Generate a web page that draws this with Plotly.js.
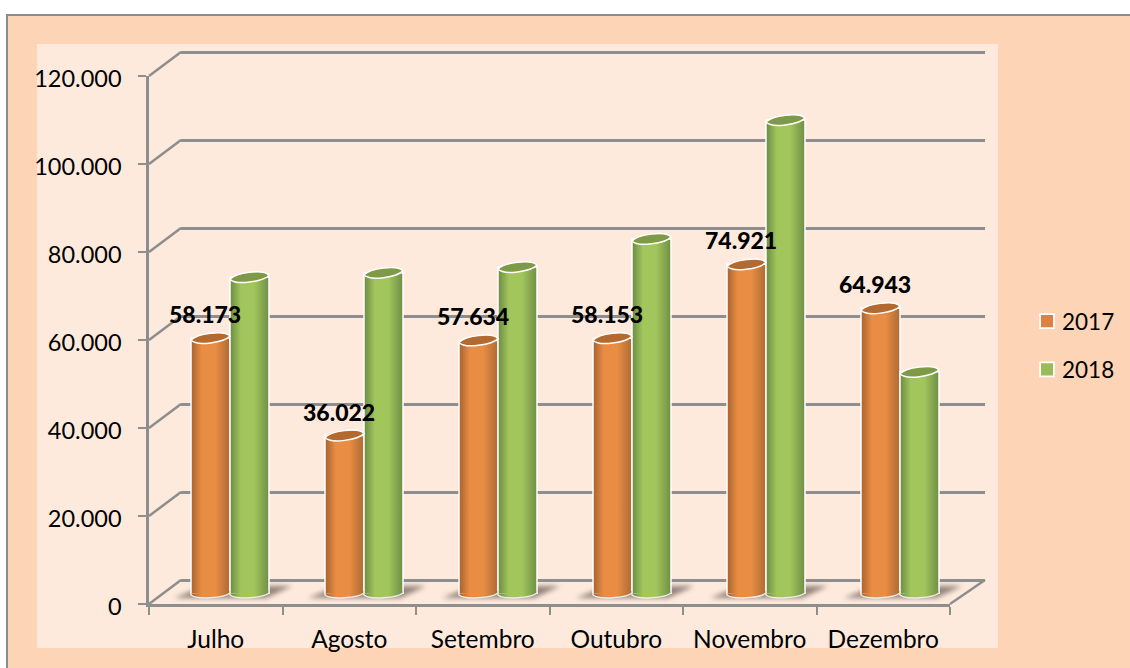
<!DOCTYPE html>
<html>
<head>
<meta charset="utf-8">
<script src="https://cdn.plot.ly/plotly-3.0.1.min.js"></script>
<style>html,body{margin:0;padding:0;background:#fff}#chart{width:1130px;height:668px}</style>
</head>
<body>
<div id="chart"></div>
<script>
const categories = ['Julho','Agosto','Setembro','Outubro','Novembro','Dezembro'];
const values2017 = [58.173,36.022,57.634,58.153,74.921,64.943];
const values2018 = [72.0,73.0,74.3,80.7,107.7,50.5];
const seriesNames = ['2017','2018'];
const tickValues = [0,20,40,60,80,100,120];
const tickLabels = ['0','20.000','40.000','60.000','80.000','100.000','120.000'];
const dataLabels = ['58.173','36.022','57.634','58.153','74.921','64.943'];

const W = 1130, H = 668;
const FONT = 'Lato, "Open Sans", sans-serif';
const GRID = '#8E8E8E';
const px = x => x / W;
const py = y => 1 - y / H;
const dom = (a, b) => [a / W, b / W];
const domY = (bottom, top) => [1 - bottom / H, 1 - top / H];

// Pixel boxes of the three stacked coordinate systems
const BACK = {l:181, r:985, b:580, t:52};
const FRONT = {l:149, r:950, b:604, t:76};
const BARS = {l:163, r:967, b:594, t:66};
const scaleY = (box, v) => box.b - (box.b - box.t) * v / 120;
const catW = (BARS.r - BARS.l) / categories.length;
const catC = i => BARS.l + catW * (i + 0.5);
const GROUP = 78;
const PAD = 2; // back-wall axis overshoot, so the 0 and 120 gridlines are kept
const padPx = (BACK.b - BACK.t) * PAD / 120;

function capPath(xl, xr, yc, tilt, bulge) {
  const w = xr - xl;
  const a = yc + tilt, b = yc - tilt;
  return `M${px(xl)},${py(a)} C${px(xl + w*0.15)},${py(a - bulge)} ${px(xr - w*0.15)},${py(b - bulge)} ${px(xr)},${py(b)} ` +
         `C${px(xr - w*0.15)},${py(b + bulge)} ${px(xl + w*0.15)},${py(a + bulge)} ${px(xl)},${py(a)} Z`;
}
function basePath(xl, xr, yc, tilt, bulge) {
  const w = xr - xl;
  const a = yc + tilt, b = yc - tilt;
  return `M${px(xr)},${py(b - 1.5)} L${px(xr)},${py(b)} C${px(xr - w*0.15)},${py(b + bulge)} ${px(xl + w*0.15)},${py(a + bulge)} ${px(xl)},${py(a)} L${px(xl)},${py(a - 1.5)}`;
}

const shapes = [];
// Outer frame and inner panel
shapes.push({type:'rect',xref:'paper',yref:'paper',x0:px(7),x1:px(1140),y0:py(15),y1:py(680),
  fillcolor:'#FDD4B5',line:{color:'#8C8C8C',width:2},layer:'below'});
shapes.push({type:'rect',xref:'paper',yref:'paper',x0:px(37),x1:px(998),y0:py(44),y1:py(648),
  fillcolor:'#FDEADC',line:{width:0},layer:'below'});
// Oblique side-wall segments joining front ticks to back gridlines
tickValues.forEach(v => shapes.push({type:'line',xref:'paper',yref:'paper',
  x0:px(FRONT.l),y0:py(scaleY(FRONT,v)),x1:px(BACK.l),y1:py(scaleY(BACK,v)),
  line:{color:GRID,width:2.5},layer:'below'}));
// Right edge of the floor
shapes.push({type:'line',xref:'paper',yref:'paper',x0:px(FRONT.r),y0:py(FRONT.b),x1:px(BACK.r),y1:py(BACK.b),
  line:{color:GRID,width:2.5},layer:'below'});

// Floor shadows
const shadowIdx = [];
categories.forEach((c,i) => {
  const cx = catC(i);
  shadowIdx.push(shapes.length);
  shapes.push({type:'path',xref:'paper',yref:'paper',layer:'below',
    path:`M${px(cx-56)},${py(598)} L${px(cx-25)},${py(586)} L${px(cx+62)},${py(586)} L${px(cx+36)},${py(598)} Z`,
    fillcolor:'#80706A',opacity:0.85,line:{width:0}});
});
// Bottom curves of the cylinders
const baseIdx = [[],[]];
categories.forEach((c,i) => {
  const cx = catC(i);
  [[cx-GROUP/2,cx],[cx,cx+GROUP/2]].forEach((e,s) => {
    baseIdx[s].push(shapes.length);
    shapes.push({type:'path',xref:'paper',yref:'paper',layer:'above',
      path:basePath(e[0],e[1],scaleY(BARS,0),1,5),
      fillcolor:s?'#A2C65C':'#E98D44',line:{color:'#EDEDE6',width:1.5}});
  });
});
// Top ellipses of the cylinders
[values2017,values2018].forEach((vals,s) => {
  vals.forEach((v,i) => {
    const cx = catC(i);
    const xl = s ? cx : cx-GROUP/2, xr = s ? cx+GROUP/2 : cx;
    shapes.push({type:'path',xref:'paper',yref:'paper',layer:'above',
      path:capPath(xl,xr,scaleY(BARS,v),2,6.5),
      fillcolor:s?'#7F9A47':'#B26A30',line:{color:'#FFFFFF',width:1.5}});
  });
});

const annotations = values2017.map((v,i) => ({
  xref:'x3',yref:'y3',x:categories[i],y:v,text:dataLabels[i],showarrow:false,
  xshift:-25,yshift:24,font:{family:FONT,size:23,color:'#000',weight:900}
}));

const baseTrace = (name,vals,color,group) => ({
  type:'bar',name,x:categories,y:vals,xaxis:'x3',yaxis:'y3',legendgroup:group,
  marker:{color,line:{color:'#FFFFFF',width:1.5}},hoverinfo:'skip'
});

const traces = [
  {type:'scatter',mode:'none',x:categories,y:values2017,xaxis:'x',yaxis:'y',showlegend:false,hoverinfo:'skip'},
  {type:'scatter',mode:'none',x:categories,y:values2017,xaxis:'x2',yaxis:'y2',showlegend:false,hoverinfo:'skip'},
  baseTrace(seriesNames[0],values2017,'#DD8040','a'),
  baseTrace(seriesNames[1],values2018,'#9BBB59','b')
];

const layout = {
  width:W,height:H,margin:{l:0,r:0,t:0,b:0,pad:0},
  paper_bgcolor:'#FFFFFF',plot_bgcolor:'rgba(0,0,0,0)',
  font:{family:FONT,color:'#000'},
  barmode:'group',bargap:1-GROUP/catW,bargroupgap:0,
  shapes,annotations,
  showlegend:true,
  legend:{x:px(1022),xanchor:'left',y:py(300),yanchor:'top',bgcolor:'rgba(0,0,0,0)',
    font:{family:FONT,size:22.5,color:'#000'},traceorder:'grouped',tracegroupgap:16,itemwidth:30},
  // back wall
  xaxis:{domain:dom(BACK.l,BACK.r),range:[-0.5,5.5],type:'category',categoryarray:categories,
    anchor:'y',showgrid:false,showline:false,zeroline:false,showticklabels:false,ticks:''},
  yaxis:{domain:domY(BACK.b+padPx,BACK.t-padPx),range:[-PAD,120+PAD],anchor:'x',tickvals:tickValues,
    showticklabels:false,ticks:'',showline:false,showgrid:true,gridcolor:GRID,gridwidth:3,zeroline:false},
  // front axes
  xaxis2:{domain:dom(FRONT.l,FRONT.r),range:[-0.5,5.5],type:'category',categoryarray:categories,
    anchor:'y2',showgrid:false,showline:true,linecolor:GRID,linewidth:3,zeroline:false,
    ticks:'outside',tickson:'boundaries',ticklen:8,tickwidth:2,tickcolor:GRID,
    tickfont:{family:FONT,size:24.5,color:'#000'},ticklabelstandoff:12},
  yaxis2:{domain:domY(FRONT.b,FRONT.t),range:[0,120],anchor:'x2',tickvals:tickValues,ticktext:tickLabels,
    showgrid:false,showline:true,linecolor:GRID,linewidth:2.5,zeroline:false,
    ticks:'outside',ticklen:8,tickwidth:2,tickcolor:GRID,ticklabelshift:3,
    tickfont:{family:FONT,size:23.5,color:'#000'},ticklabelstandoff:12},
  // bars
  xaxis3:{domain:dom(BARS.l,BARS.r),range:[-0.5,5.5],type:'category',categoryarray:categories,
    anchor:'y3',showgrid:false,showline:false,zeroline:false,showticklabels:false,ticks:''},
  yaxis3:{domain:domY(BARS.b,BARS.t),range:[0,120],anchor:'x3',showgrid:false,showline:false,
    zeroline:false,showticklabels:false,ticks:''}
};

function gradient(defs,id,edgeL,mid,edgeR){
  const NS='http://www.w3.org/2000/svg';
  const g=document.createElementNS(NS,'linearGradient');
  g.setAttribute('id',id);g.setAttribute('x1','0');g.setAttribute('x2','1');g.setAttribute('y1','0');g.setAttribute('y2','0');
  [[0,edgeL],[0.28,mid],[0.62,mid],[1,edgeR]].forEach(s=>{
    const st=document.createElementNS(NS,'stop');
    st.setAttribute('offset',s[0]);st.setAttribute('stop-color',s[1]);g.appendChild(st);
  });
  defs.appendChild(g);
}

Plotly.newPlot('chart',traces,layout,{displayModeBar:false,responsive:false}).then(()=>{
  const NS='http://www.w3.org/2000/svg';
  const svg=document.querySelector('#chart .main-svg');
  const defs=document.createElementNS(NS,'defs');
  svg.insertBefore(defs,svg.firstChild);
  gradient(defs,'cyl0','#A8622E','#E98D44','#AE6A33');
  gradient(defs,'cyl1','#6B8A44','#A2C65C','#6F8E46');
  const blur=document.createElementNS(NS,'filter');
  blur.setAttribute('id','soft');blur.setAttribute('x','-20%');blur.setAttribute('y','-60%');
  blur.setAttribute('width','140%');blur.setAttribute('height','220%');
  const fe=document.createElementNS(NS,'feGaussianBlur');fe.setAttribute('stdDeviation','2.5');
  blur.appendChild(fe);defs.appendChild(blur);
  document.querySelectorAll('#chart .barlayer .trace').forEach((t,s)=>{
    t.querySelectorAll('.point path').forEach(p=>{p.style.fill=`url(#cyl${s})`;});
  });
  const shapeAt=(layer,k)=>document.querySelector(`#chart .${layer} .shapelayer path[data-index="${k}"]`);
  shadowIdx.forEach(k=>{const p=shapeAt('layer-below',k);if(p)p.style.filter='url(#soft)';});
  baseIdx.forEach((arr,s)=>arr.forEach(k=>{const p=shapeAt('layer-above',k);if(p)p.style.fill=`url(#cyl${s})`;}));
  document.querySelectorAll('#chart .legend .legendpoints path').forEach(p=>{
    p.setAttribute('transform','translate(25 0) scale(1.15)');
  });
});
</script>
</body>
</html>
